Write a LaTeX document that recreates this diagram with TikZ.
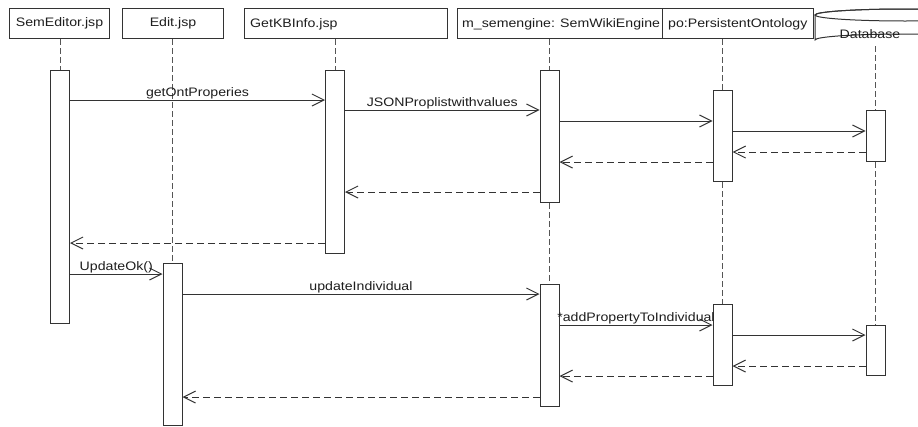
\documentclass[tikz,border=0pt]{standalone}
\usepackage{fontspec}
\setmainfont{Liberation Sans}[FakeStretch=1.15]
\usetikzlibrary{arrows.meta}

\definecolor{ink}{HTML}{1E1E1E}
\definecolor{edge}{HTML}{333333}
\definecolor{lifegray}{HTML}{555555}

\tikzset{
  lbltext/.style={font=\fontsize{12.3}{14}\selectfont, text=ink},
  hbox/.style={draw=edge, line width=1pt, fill=white, anchor=north west,
    minimum height=30pt, inner sep=0pt, text height=9pt, text depth=3pt, lbltext},
  htext/.style={anchor=base west, inner sep=0pt, lbltext},
  act/.style={draw=edge, line width=1pt, fill=white, anchor=north,
    minimum width=19pt, inner sep=0pt},
  life/.style={draw=lifegray, line width=0.9pt, dash pattern=on 6pt off 3pt},
  msg/.style={draw=edge, line width=1pt, -{Straight Barb[length=12pt,width=12pt]}},
  ret/.style={msg, dash pattern=on 7pt off 4pt},
  msglbl/.style={midway, anchor=base, yshift=3.5pt, inner sep=0pt, lbltext},
}

\begin{document}
\begin{tikzpicture}[x=1pt, y=-1pt]
\clip (0,0) rectangle (918,426);
\fill[white] (0,0) rectangle (918,426);

% header boxes
\node[hbox, minimum width=100pt] (semeditor) at (9,8) {SemEditor.jsp};
\node[hbox, minimum width=101pt] (edit) at (122,8) {Edit.jsp};
\node[hbox, minimum width=203pt] (getkb) at (244,8) {};
\node[htext] (getkblbl) at (250,27) {GetKBInfo.jsp};
\node[hbox, minimum width=205pt] (engine) at (457,8) {};
\node[htext] (enginelbl) at (462,27) {m\_semengine: SemWikiEngine};
\node[hbox, minimum width=151pt] (onto) at (662,8) {};
\node[htext] (ontolbl) at (668,27) {po:PersistentOntology};

% database cylinder
\draw[edge, line width=1pt, fill=white]
  (815,15) -- (815,40) arc[start angle=180, end angle=360, x radius=90, y radius=6]
  -- (995,15) arc[start angle=0, end angle=-180, x radius=90, y radius=6] -- cycle;
\draw[edge, line width=1pt] (905,15) ellipse[x radius=90, y radius=6];
\node[lbltext, anchor=base, inner sep=0pt] (db) at (870,38) {Database};
\coordinate (dbbottom) at (875.5,46);

% activation bars
\node[act, minimum height=253pt] (s1) at (60,70) {};
\node[act, minimum height=183pt] (g1) at (335,70) {};
\node[act, minimum height=132pt] (m1) at (549.5,70) {};
\node[act, minimum height=91pt]  (p1) at (722.5,90) {};
\node[act, minimum height=51pt]  (d1) at (875.5,110) {};
\node[act, minimum height=162pt] (e1) at (172.5,263) {};
\node[act, minimum height=122pt] (m2) at (549.5,284) {};
\node[act, minimum height=81pt]  (p2) at (722.5,304) {};
\node[act, minimum height=50pt]  (d2) at (875.5,325) {};

% lifelines
\draw[life] (s1.north |- semeditor.south) -- (s1.north);
\draw[life] (e1.north |- edit.south) -- (e1.north);
\draw[life] (g1.north |- getkb.south) -- (g1.north);
\draw[life] (m1.north |- engine.south) -- (m1.north);
\draw[life] (m1.south) -- (m2.north);
\draw[life] (p1.north |- onto.south) -- (p1.north);
\draw[life] (p1.south) -- (p2.north);
\draw[life] (dbbottom) -- (d1.north);
\draw[life] (d1.south) -- (d2.north);

% first exchange
\draw[msg] (s1.east |- 0,100) -- (g1.west |- 0,100) node[msglbl] {getOntProperies};
\draw[msg] (g1.east |- 0,110) -- (m1.west |- 0,110) node[msglbl] {JSONProplistwithvalues};
\draw[msg] (m1.east |- 0,121) -- (p1.west |- 0,121);
\draw[msg] (p1.east |- 0,131) -- (d1.west |- 0,131);
\draw[ret] (d1.west |- 0,152) -- (p1.east |- 0,152);
\draw[ret] (p1.west |- 0,162) -- (m1.east |- 0,162);
\draw[ret] (m1.west |- 0,192) -- (g1.east |- 0,192);
\draw[ret] (g1.west |- 0,243) -- (s1.east |- 0,243);

% second exchange
\draw[msg] (s1.east |- 0,274) -- (e1.west |- 0,274) node[msglbl] {UpdateOk()};
\draw[msg] (e1.east |- 0,294) -- (m2.west |- 0,294) node[msglbl] {updateIndividual};
\draw[msg] (m2.east |- 0,325) -- (p2.west |- 0,325) node[msglbl] {*addPropertyToIndividual};
\draw[msg] (p2.east |- 0,335) -- (d2.west |- 0,335);
\draw[ret] (d2.west |- 0,366) -- (p2.east |- 0,366);
\draw[ret] (p2.west |- 0,376) -- (m2.east |- 0,376);
\draw[ret] (m2.west |- 0,397) -- (e1.east |- 0,397);
\end{tikzpicture}
\end{document}
